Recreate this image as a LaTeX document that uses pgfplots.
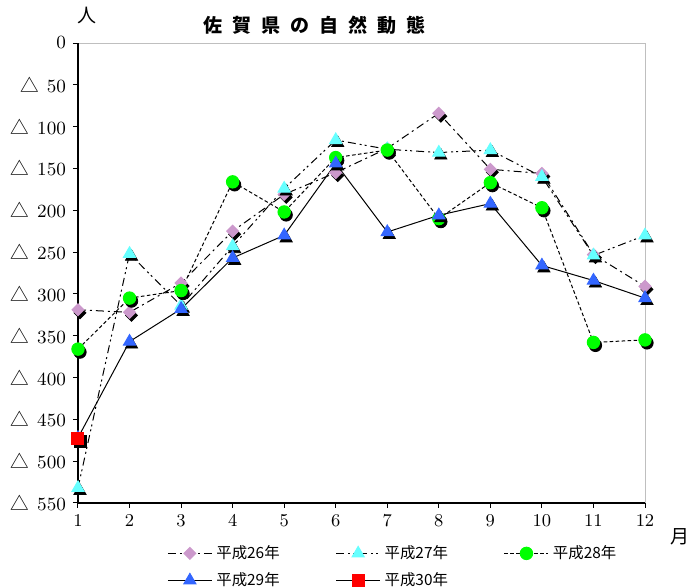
\documentclass[border=0pt]{standalone}
\usepackage{pgfplots}
\pgfplotsset{compat=1.18}
\usepackage{pgfplotstable}
\usepackage{fontspec}
\newfontfamily\cjk{Noto Sans CJK JP}

\definecolor{c26}{RGB}{204,153,204}
\definecolor{c27}{RGB}{102,255,255}
\definecolor{c28}{RGB}{0,255,0}
\definecolor{c29}{RGB}{51,102,255}
\definecolor{c30}{RGB}{255,0,0}

% 自然動態（出生－死亡）, 人
\pgfplotstableread{
m  h26   h27   h28   h29
1  -319  -532  -366  -472
2  -322  -252  -305  -357
3  -287  -314  -296  -318
4  -225  -243  -166  -257
5  -181  -174  -202  -230
6  -155  -116  -137  -144
7  -126  -127  -128  -226
8  -84   -131  -210  -206
9  -151  -128  -167  -192
10 -156  -160  -197  -266
11 -253  -254  -358  -284
12 -291  -230  -355  -305
}\data
\pgfplotstableread{
m  h30
1  -473
}\dataB

\tikzset{
  s26/.style={black, line width=0.5pt, dash pattern=on 4pt off 2pt on 1pt off 2pt},
  s27/.style={black, line width=0.5pt, dash pattern=on 4pt off 2pt on 1pt off 1.5pt on 1pt off 2pt},
  s28/.style={black, line width=0.5pt, dash pattern=on 1.8pt off 1.2pt},
  s29/.style={black, line width=0.5pt},
  shm/.style={xshift=1pt, yshift=-1.5pt, fill=black, draw=black, solid},
}
\pgfplotsset{
  shadow/.style={forget plot, draw=none},
}
\newcommand{\tri}{{\cjk △}\hspace{4pt}}

\begin{document}
\begin{tikzpicture}
\begin{axis}[
  scale only axis,
  width=283.5pt, height=230pt,
  xmin=1, xmax=12, ymin=-550, ymax=0,
  clip=false,
  xtick={1,...,12},
  ytick={-550,-500,...,0},
  yticklabels={\tri 550,\tri 500,\tri 450,\tri 400,\tri 350,\tri 300,\tri 250,\tri 200,\tri 150,\tri 100,\tri 50,0},
  tick label style={font=\fontsize{9.3}{11}\selectfont},
  tick align=outside,
  major tick length=2.5pt,
  xtick pos=bottom, ytick pos=left,
  tick style={black, line width=0.5pt},
  axis line style={draw=gray!50, line width=0.5pt},
  legend columns=3,
  legend cell align=left,
  legend style={draw=none, fill=none, at={(0.557,0)}, anchor=north, yshift=-17pt,
    font=\cjk\fontsize{7.7}{9}\selectfont, row sep=1.5pt,
    /tikz/every even column/.append style={column sep=26pt}},
  legend image code/.code={
    \draw[#1, mark repeat=2, mark phase=2] plot coordinates {(0pt,0pt) (11pt,0pt) (22pt,0pt)};
  },
]
\addplot[shadow, mark=square*, mark size=2.1pt, mark options={shm, rotate=45}] table[x=m, y=h26] {\data};
\addplot[s26, mark=square*, mark size=2.1pt, mark options={solid, rotate=45, fill=c26, draw=c26}] table[x=m, y=h26] {\data};
\addlegendentry{平成26年}
\addplot[shadow, mark=triangle*, mark size=3.5pt, mark options={shm}] table[x=m, y=h27] {\data};
\addplot[s27, mark=triangle*, mark size=3.5pt, mark options={solid, fill=c27, draw=c27}] table[x=m, y=h27] {\data};
\addlegendentry{平成27年}
\addplot[shadow, mark=*, mark size=3.1pt, mark options={shm}] table[x=m, y=h28] {\data};
\addplot[s28, mark=*, mark size=3.1pt, mark options={solid, fill=c28, draw=c28}] table[x=m, y=h28] {\data};
\addlegendentry{平成28年}
\addplot[shadow, mark=triangle*, mark size=3.5pt, mark options={shm}] table[x=m, y=h29] {\data};
\addplot[s29, mark=triangle*, mark size=3.5pt, mark options={solid, fill=c29, draw=c29}] table[x=m, y=h29] {\data};
\addlegendentry{平成29年}
\addplot[shadow, mark=square*, mark size=3pt, mark options={shm}] table[x=m, y=h30] {\dataB};
\addplot[s29, mark=square*, mark size=3pt, mark options={solid, fill=c30, draw=c30}] table[x=m, y=h30] {\dataB};
\addlegendentry{平成30年}
\draw[black, line width=0.6pt] (axis cs:1,0) -- (axis cs:1,-550) -- (axis cs:12,-550);
\coordinate (O) at (axis cs:1,-550);
\end{axis}
\node[font=\cjk\fontsize{9.5}{11}\selectfont] at ([shift={(4.5pt,244pt)}]O) {人};
\node[font=\cjk\bfseries\fontsize{9.5}{11}\selectfont] at ([shift={(118.5pt,239pt)}]O)
  {佐\hspace{5pt}賀\hspace{5pt}県\hspace{5pt}の\hspace{5pt}自\hspace{5pt}然\hspace{5pt}動\hspace{5pt}態};
\node[font=\cjk\fontsize{9.5}{11}\selectfont] at ([shift={(301pt,-17pt)}]O) {月};
\pgfresetboundingbox
\path ([shift={(-39pt,-42.5pt)}]O) rectangle ([shift={(309.5pt,251.5pt)}]O);
\end{tikzpicture}
\end{document}
